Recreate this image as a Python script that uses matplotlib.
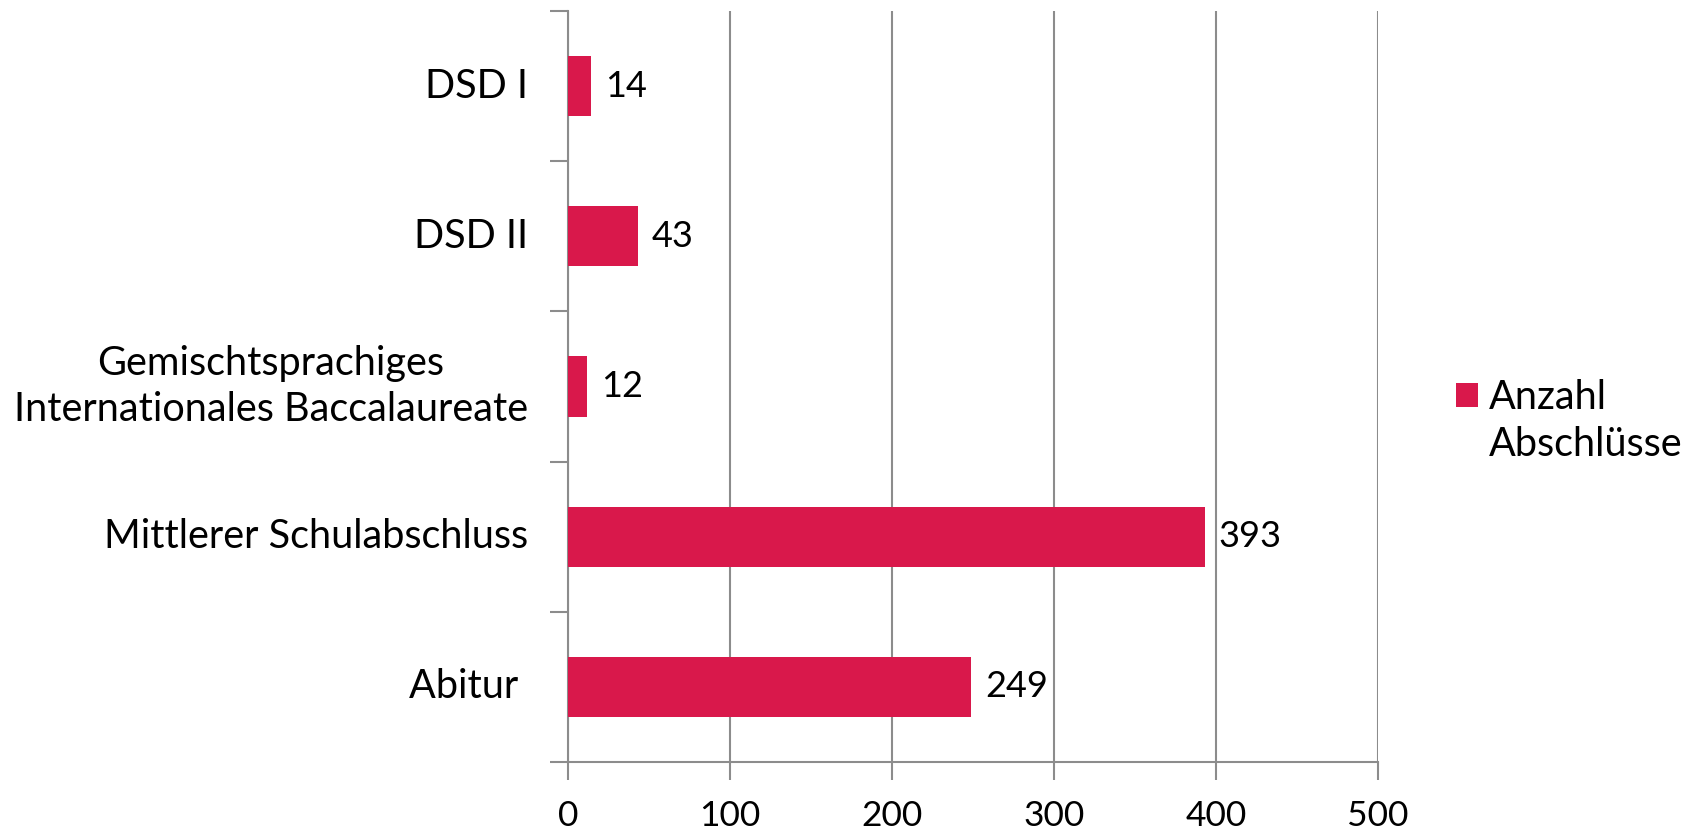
import matplotlib
matplotlib.use("Agg")
import matplotlib.pyplot as plt
from matplotlib.patches import Rectangle

categories = ["DSD I", "DSD II", "Gemischtsprachiges\nInternationales Baccalaureate",
              "Mittlerer Schulabschluss", "Abitur "]
values = [14, 43, 12, 393, 249]
series_name = ["Anzahl", "Abschlüsse"]
xticks = [0, 100, 200, 300, 400, 500]

plt.rcParams['font.family'] = ['Lato', 'DejaVu Sans']
bar_color = "#D9184B"
grid_color = "#8C8C8C"

fig = plt.figure(figsize=(17, 8.33), dpi=100)
ax = fig.add_axes([568/1700, 1-762/833, 810/1700, 751/833])

n = len(categories)
ypos = list(range(n))
bars = ax.barh(ypos, values, height=0.4, color=bar_color, label=" ".join(series_name), zorder=3)
ax.set_ylim(n - 0.5, -0.5)
ax.set_xlim(0, 500)

ax.set_xticks(xticks)
ax.set_xticklabels([str(t) for t in xticks], fontsize=25.5)
ax.set_yticks([])
ax.set_yticks([i - 0.5 for i in range(n + 1)], minor=True)
ax.tick_params(axis='y', which='minor', length=13, width=1.5, color=grid_color, direction='out')
ax.tick_params(axis='x', length=13, width=1.5, color=grid_color, direction='out', pad=14)

for i, c in enumerate(categories):
    ax.annotate(c, (0, i), xycoords=ax.get_yaxis_transform(), xytext=(-40, 0),
                textcoords='offset pixels', ha='right', va='center',
                multialignment='center', fontsize=28.5, linespacing=1.3)

ax.grid(axis='x', color=grid_color, linewidth=1.5, zorder=0)
for s in ['top', 'right']:
    ax.spines[s].set_visible(False)
for s in ['left', 'bottom']:
    ax.spines[s].set_color(grid_color)
    ax.spines[s].set_linewidth(1.5)

for b, v in zip(bars, values):
    ax.annotate(str(v), (b.get_width(), b.get_y() + b.get_height()/2),
                xytext=(14, 0), textcoords='offset pixels', ha='left', va='center', fontsize=26)

blank = Rectangle((0, 0), 1, 1, visible=False)
leg = fig.legend(handles=[bars, blank], labels=series_name, loc='center left',
                 bbox_to_anchor=(1456/1700, 1-421/833), frameon=False, fontsize=28.5,
                 handlelength=0.55, handleheight=0.55, handletextpad=0.28,
                 borderpad=0, borderaxespad=0, labelspacing=0.26)

fig.savefig("out.png", dpi=100)
